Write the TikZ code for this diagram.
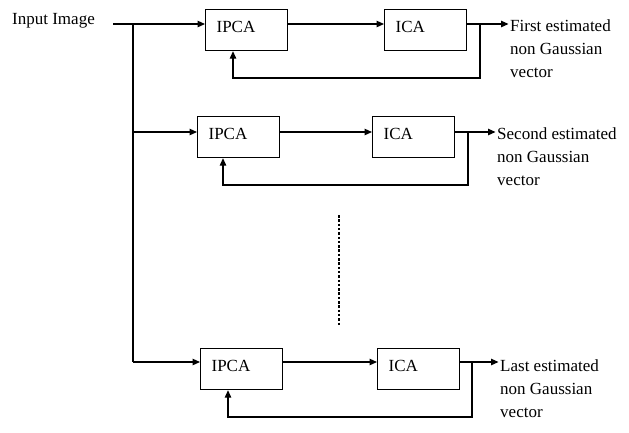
\documentclass[tikz,border=0pt]{standalone}
\usepackage{fontspec}
\setmainfont{Liberation Serif}
\usetikzlibrary{arrows.meta}
\begin{document}
\begin{tikzpicture}[x=1pt,y=-1pt,
  txt/.style={font=\fontsize{17}{23}\selectfont},
  box/.style={txt, draw, line width=1.2pt, minimum height=41pt, text width=60pt,
    inner xsep=11pt, inner ysep=0pt, text height=12pt, text depth=7pt,
    align=left, anchor=north west},
  ln/.style={line width=1.2pt},
  arr/.style={ln, -{Triangle[length=7.5pt,width=6.5pt]}},
  lbl/.style={txt, align=left, anchor=base west, inner sep=0pt}]
\useasboundingbox (0,0) rectangle (629,432);

% input
\node[lbl] (in) at (12,24) {Input Image};
\coordinate (s) at (113,24);
\coordinate (j1) at (133,24);
\coordinate (j2) at (133,132);
\coordinate (j3) at (133,362);
\draw[ln] (s) -- (j1) -- (j3);

% row 1
\node[box] (ipca1) at (205,9) {IPCA};
\node[box] (ica1) at (384,9) {ICA};
\node[lbl] (out1) at (510,77) {First estimated\\non Gaussian\\vector};
\coordinate (b1) at (480,24);
\coordinate (f1) at (480,78);
\coordinate (g1) at (233,78);
\draw[arr] (j1) -- (ipca1.west |- j1);
\draw[arr] (ipca1.east |- j1) -- (ica1.west |- j1);
\draw[arr, shorten >=1.5pt] (ica1.east |- j1) -- (out1.west |- j1);
\draw[arr] (b1) -- (f1) -- (g1) -- (g1 |- ipca1.south);

% row 2
\node[box] (ipca2) at (197,116) {IPCA};
\node[box] (ica2) at (372,116) {ICA};
\node[lbl] (out2) at (497,185) {Second estimated\\non Gaussian\\vector};
\coordinate (b2) at (468,132);
\coordinate (f2) at (468,185);
\coordinate (g2) at (223,185);
\draw[arr] (j2) -- (ipca2.west |- j2);
\draw[arr] (ipca2.east |- j2) -- (ica2.west |- j2);
\draw[arr, shorten >=1.5pt] (ica2.east |- j2) -- (out2.west |- j2);
\draw[arr] (b2) -- (f2) -- (g2) -- (g2 |- ipca2.south);

% row 3
\node[box] (ipca3) at (200,348) {IPCA};
\node[box] (ica3) at (377,348) {ICA};
\node[lbl] (out3) at (500,417) {Last estimated\\non Gaussian\\vector};
\coordinate (b3) at (472,362);
\coordinate (f3) at (472,417);
\coordinate (g3) at (228,417);
\draw[arr] (j3) -- (ipca3.west |- j3);
\draw[arr] (ipca3.east |- j3) -- (ica3.west |- j3);
\draw[arr, shorten >=1.5pt] (ica3.east |- j3) -- (out3.west |- j3);
\draw[arr] (b3) -- (f3) -- (g3) -- (g3 |- ipca3.south);

% dots
\draw[line width=1.2pt, dash pattern=on 2.5pt off 1.8pt] (339,215) -- (339,325);
\end{tikzpicture}
\end{document}
